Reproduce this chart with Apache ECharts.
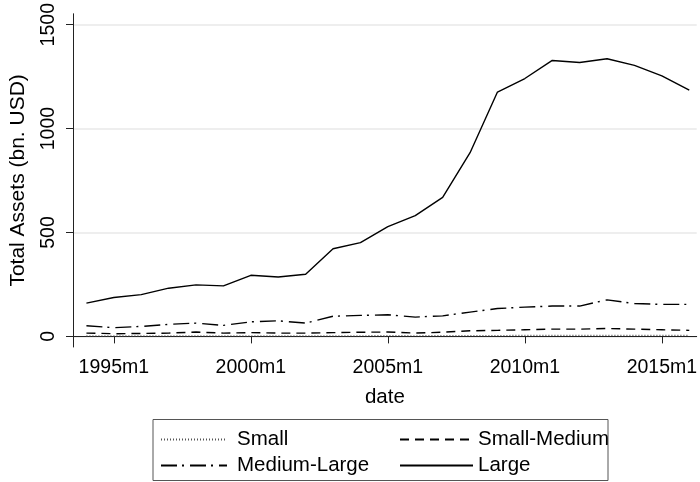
<!DOCTYPE html>
<html>
<head>
<meta charset="utf-8">
<script src="https://cdn.jsdelivr.net/npm/echarts@6/dist/echarts.min.js"></script>
<style>html,body{margin:0;padding:0;background:#fff}#c{width:700px;height:482px}</style>
</head>
<body>
<div id="c"></div>
<script>
var years = [1994,1995,1996,1997,1998,1999,2000,2001,2002,2003,2004,2005,2006,2007,2008,2009,2010,2011,2012,2013,2014,2015,2016];
var small = [3,3,3,3,3,3,3,3,3,3,3,4,3,4,4,4,5,5,5,5,5,5,5];
var smallMedium = [16,13,14,16,21,16,18,16,16,18,20,21,16,20,27,29,32,35,35,38,35,32,29];
var mediumLarge = [51,42,48,58,64,53,70,75,64,97,101,104,93,99,117,134,141,146,146,176,158,154,154];
var large = [160,187,201,232,248,243,294,286,299,422,451,528,581,669,884,1176,1241,1328,1318,1336,1304,1254,1185];
var xTicks = [1995,2000,2005,2010,2015];
var yTicks = [0,500,1000,1500];
var seriesNames = ['Small','Small-Medium','Medium-Large','Large'];

function pairs(v){ return years.map(function(y,i){ return [y, v[i]]; }); }

var FONT = 'Liberation Sans, Arial, Helvetica, sans-serif';
var chart = echarts.init(document.getElementById('c'));
function lg(name, left, top, w, pad){
  return {data:[name], left:left, top:top, itemWidth:w, itemHeight:14, padding:0,
    selectedMode:false, itemStyle:{opacity:0},
    textStyle:{fontSize:20.5, color:'#000', fontFamily:FONT, padding:[0,0,0,pad]}};
}
chart.setOption({
  animation:false,
  grid:{left:71, top:12, right:0, bottom:135, containLabel:false},
  xAxis:{type:'value', min:1993.51, max:2016.27,
    name:'date', nameLocation:'middle', nameGap:40,
    nameTextStyle:{fontSize:20.5, color:'#000', fontFamily:FONT},
    axisLine:{show:true, lineStyle:{color:'#222', width:1}},
    axisTick:{show:true, length:7, customValues:xTicks, lineStyle:{color:'#222'}},
    axisLabel:{customValues:xTicks, margin:11, fontSize:19.5, color:'#000', fontFamily:FONT,
      formatter:function(v){return v+'m1';}},
    splitLine:{show:false}},
  yAxis:{type:'value', min:-51, max:1552.6,
    name:'Total Assets (bn. USD)', nameLocation:'middle', nameGap:44,
    nameTextStyle:{fontSize:21, color:'#000', fontFamily:FONT},
    axisLine:{show:true, lineStyle:{color:'#222', width:1}},
    axisTick:{show:true, length:7, customValues:yTicks, lineStyle:{color:'#222'}},
    axisLabel:{customValues:yTicks, rotate:90, margin:14, fontSize:19.5, color:'#000', fontFamily:FONT,
      formatter:function(v){return String(v);}},
    splitLine:{show:true, lineStyle:{color:'#e8e8e8', width:1.5}}},
  legend:[
    lg(seriesNames[0],160,429,66,5),
    lg(seriesNames[1],399,429,73,0),
    lg(seriesNames[2],160,455,66,5),
    lg(seriesNames[3],399,455,73,0)
  ],
  graphic:[{type:'rect', shape:{x:153, y:419.5, width:455, height:61}, style:{fill:'none', stroke:'#555', lineWidth:1}, silent:true}],
  series:[
    {name:seriesNames[0], type:'line', data:pairs(small), symbol:'none', lineStyle:{color:'#555', width:1.2, type:[1,2]}, itemStyle:{color:'#555'}},
    {name:seriesNames[1], type:'line', data:pairs(smallMedium), symbol:'none', lineStyle:{color:'#000', width:1.4, type:[9,6]}, itemStyle:{color:'#000'}},
    {name:seriesNames[2], type:'line', data:pairs(mediumLarge), symbol:'none', lineStyle:{color:'#000', width:1.4, type:[16,5,2,6]}, itemStyle:{color:'#000'}},
    {name:seriesNames[3], type:'line', data:pairs(large), symbol:'none', lineStyle:{color:'#000', width:1.4}, itemStyle:{color:'#000'}}
  ]
});
</script>
</body>
</html>
